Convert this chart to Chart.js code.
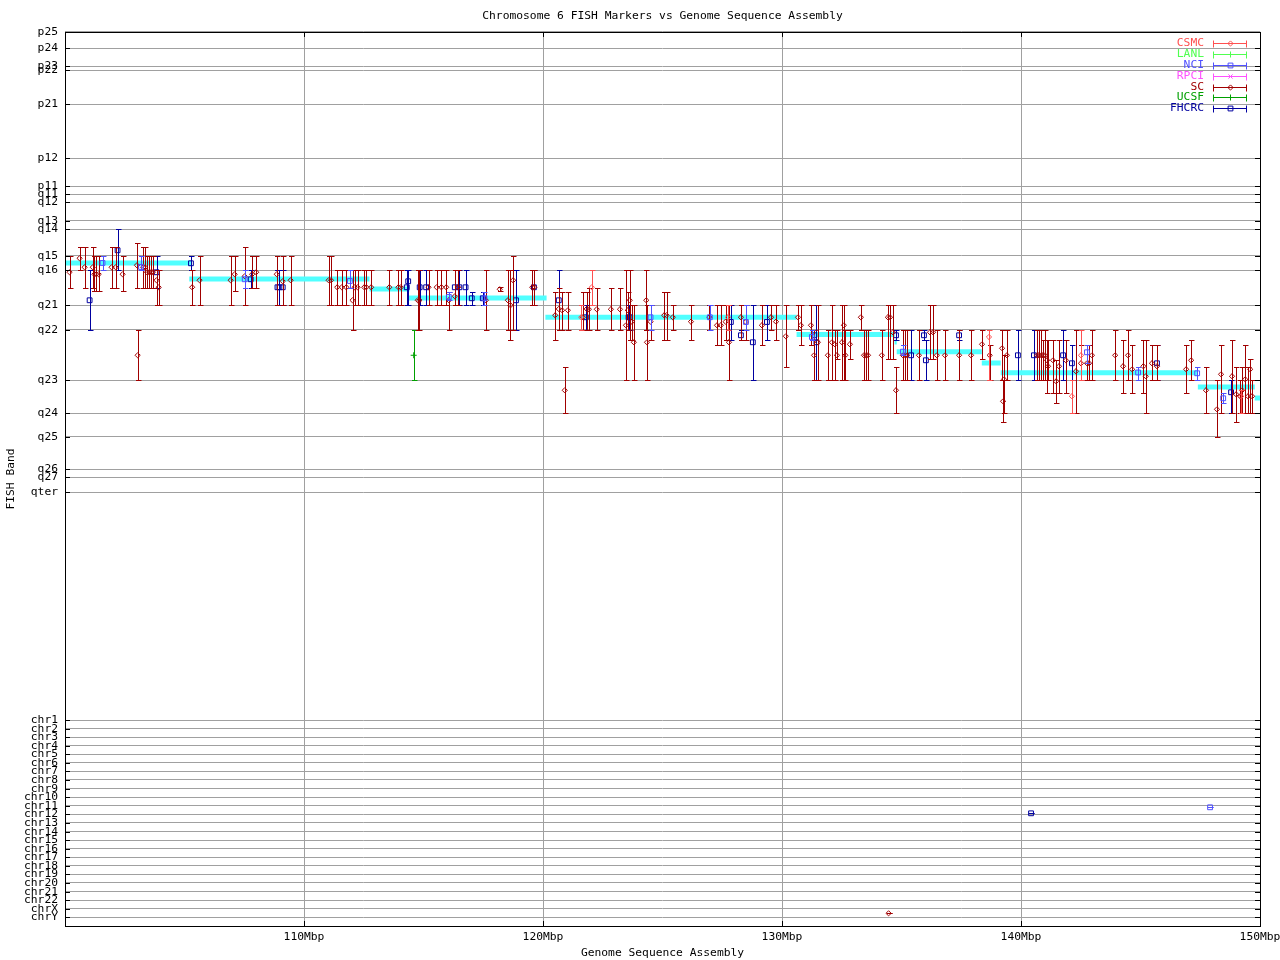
<!DOCTYPE html>
<html><head><meta charset="utf-8">
<script src="https://cdn.jsdelivr.net/npm/chart.js@4.4.1/dist/chart.umd.min.js"></script>
<style>html,body{margin:0;padding:0;background:#fff}canvas{display:block}</style>
</head><body>
<canvas id="c" width="1280" height="960"></canvas>
<script>
// ---- axis definitions ----
const bandLabels = ['p25','p24','p23','p22','p21','p12','p11','q11','q12','q13','q14','q15','q16','q21','q22','q23','q24','q25','q26','q27','qter',
  'chr1','chr2','chr3','chr4','chr5','chr6','chr7','chr8','chr9','chr10','chr11','chr12','chr13','chr14','chr15','chr16','chr17','chr18','chr19','chr20','chr21','chr22','chrX','chrY'];
const bandPos = [0,16.3,34.3,38.3,72.3,126.3,154.3,162.3,170.3,189,197.3,224,238.3,273.3,298,348.3,381.3,405,437.3,445.3,460.3,
  688.3,696.7,705.3,713.7,722.3,730.7,739.3,748,756.7,765.3,773.7,782.3,791,799.7,808.3,817,825.3,833.7,842.3,851,859.7,868.3,877,885.3];
const xTicks = [100,110,120,130,140,150];

// ---- assembly (sequence-to-band mapping) ----
const asmStart = [100.00,105.20,112.74,114.33,120.10,130.61,134.71,134.80,138.36,139.15,147.40,149.78];
const asmEnd   = [105.27,112.74,114.41,120.15,130.61,134.71,134.80,138.36,139.15,147.40,149.78,150.00];
const asmBand  = [231,247,257,266,285.3,302.5,310,319.7,331,340.7,355,366];

// ---- SC ----
const scPos = [100.19,100.61,100.82,101.16,101.23,101.31,101.41,101.95,102.12,102.41,103.01,103.04,103.27,103.35,103.43,103.52,103.60,103.68,103.83,103.92,
  105.32,105.63,106.93,107.10,107.52,107.83,108.00,108.86,109.11,109.44,111.03,111.13,111.39,111.58,111.77,112.03,112.12,112.24,112.52,112.61,
  112.81,113.57,113.95,114.05,114.76,114.83,115.21,115.55,115.75,115.95,116.06,116.31,116.45,117.61,118.19,118.53,118.64,118.75,119.55,119.64,
  120.51,120.66,120.80,120.91,121.04,121.67,121.83,121.92,122.25,122.84,123.22,123.47,123.55,123.63,123.72,123.80,124.32,124.35,124.50,125.07,
  125.17,125.43,126.19,126.96,127.28,127.44,127.64,127.78,128.28,128.49,129.16,129.54,129.75,130.16,130.67,130.79,131.21,131.34,131.50,131.92,
  132.09,132.21,132.30,132.51,132.59,132.65,132.84,133.30,133.43,133.51,133.60,134.18,134.43,134.52,134.64,134.77,135.06,135.15,135.23,135.73,
  136.19,136.32,136.48,136.82,137.41,137.91,138.37,138.69,139.21,139.25,139.29,139.41,140.67,140.75,140.84,140.92,141.00,141.09,141.13,141.34,
  141.47,141.59,141.88,142.30,142.51,142.76,142.85,142.97,143.94,144.27,144.48,144.65,145.12,145.22,145.48,145.69,146.91,147.12,147.74,148.20,
  148.37,148.83,149.00,149.17,149.25,149.38,149.50,149.59,149.67,134.46];
const scBand = [240.3,226.3,235.3,235.3,242.3,242.3,242.3,235.3,235.3,242.3,233.3,323.3,235.3,235.3,240.3,240.3,240.3,240.3,248.3,255.3,
  255.3,248.3,248.3,242.3,244.3,242.3,240.3,242.3,249.3,248.3,248.3,248.3,255.3,255.3,255.3,268.3,255.3,255.3,255.3,255.3,
  255.3,255.3,255.3,255.3,268.3,268.3,255.3,255.3,255.3,255.3,268.3,264.3,255.3,268.3,257.3,268.3,273.3,248.3,255.3,255.3,
  283.3,277,278.3,358.3,278.3,285.3,277,277.3,277.3,277.3,277.3,293.3,278.3,268.3,289.7,310.3,268.3,310.3,289.7,283.3,
  283.3,285.3,289.7,285.3,293.3,293.3,289.7,310.3,285.3,290,293.3,285.3,289.7,304.3,285.3,293.3,293.3,323.3,310.3,323.3,
  310.3,312.3,323.3,310.3,293.3,323.3,312.3,285.3,323.3,323.3,323.3,323.3,285.3,285.3,300.3,358.3,323.3,323.3,323.3,323.3,
  300.3,300.3,323.3,323.3,323.3,323.3,312.3,323.3,316.3,369.3,347.3,323.3,323.3,323.3,323.3,323.3,323.3,328.3,334.3,328.3,
  349.3,334.3,328.3,339.3,331.3,331.3,331.3,323.3,323.3,334.3,323.3,337.3,334.3,344.3,331.3,334.3,337.3,328.3,358.3,377.3,
  342.3,344.3,362.3,364.3,358.3,347.3,364.3,337.3,364.3,881.3];
const scFrom = [224.3,215.3,215.3,215.3,224.3,224.3,224.3,215.3,215.3,224.3,211.3,298,215.3,215.3,224.3,224.3,224.3,224.3,238.3,238.3,
  238.3,224.3,224.3,224.3,215.3,224.3,224.3,224.3,224.3,224.3,224.3,224.3,238.3,238.3,238.3,238.3,238.3,238.3,238.3,238.3,
  238.3,238.3,238.3,238.3,238.3,238.3,238.3,238.3,238.3,238.3,259.7,238.3,238.3,238.3,255.3,238.3,238.3,224.3,238.3,238.3,
  259.7,256.3,259.7,335.3,259.7,259.7,259.7,256.3,256.3,256.3,256.3,238.3,259.7,238.3,273.3,273.3,238.3,273.3,273.3,259.7,
  259.7,273.3,273.3,273.3,273.3,273.3,273.3,273.3,273.3,273.3,273.3,273.3,273.3,273.3,273.3,273.3,273.3,298,273.3,298,
  273.3,298,298,273.3,273.3,298,298,273.3,298,298,298,298,273.3,273.3,273.3,335.3,298,298,298,298,
  273.3,273.3,298,298,298,298,298,313.3,298,348.3,323.3,298,298,298,298,308,298,308,308,308,
  328.3,308,308,298,313.3,313.3,313.3,298,298,308,298,313.3,308,308,313.3,313.3,313.3,308,335.3,348.3,
  313.3,308,335.3,348.3,335.3,313.3,335.3,327.3,348.3,881.3];
const scTo = [256.3,238.3,256.3,256.3,259.3,259.3,259.3,256.3,256.3,259.3,256.3,348.3,256.3,256.3,256.3,256.3,256.3,256.3,273.3,273.3,
  273.3,273.3,273.3,259.3,273.3,256.3,256.3,273.3,273.3,273.3,273.3,273.3,273.3,273.3,273.3,298,273.3,273.3,273.3,273.3,
  273.3,273.3,273.3,273.3,298,298,273.3,273.3,273.3,273.3,298,273.3,273.3,298,259.3,298,308,298,273.3,273.3,
  308,298,298,381.3,298,298,298,298,298,298,298,348.3,298,308,308,348.3,298,348.3,308,308,
  308,298,308,298,313,313,308,348.3,308,308,313,298,308,335.3,298,313,313,348.3,348.3,348.3,
  348.3,348.3,327.3,348.3,348.3,348.3,327.3,298,348.3,348.3,348.3,348.3,327.3,327.3,327.3,381.3,348.3,348.3,348.3,348.3,
  327.3,327.3,348.3,348.3,348.3,348.3,327.3,348.3,348.3,390.3,381.3,348.3,348.3,348.3,348.3,348.3,348.3,361.3,348.3,361.3,
  371.3,361.3,361.3,381.3,348.3,348.3,348.3,348.3,348.3,361.3,348.3,361.3,361.3,381.3,348.3,348.3,361.3,348.3,381.3,405.3,
  381.3,381.3,390.3,381.3,381.3,381.3,381.3,381.3,381.3,881.3];

// ---- FHCRC ----
const fhPos  = [101.03,102.20,103.83,105.27,107.77,108.89,108.97,109.11,114.30,114.36,114.84,115.11,116.31,116.50,116.76,117.02,117.48,118.87,119.62,120.66,
  121.79,123.58,123.64,127.86,128.28,128.78,129.37,131.35,131.44,134.77,135.40,135.94,136.02,137.41,139.87,140.54,141.76,142.13,145.69,148.79,140.42];
const fhBand = [268.3,218.3,240.3,231.3,247.3,255.3,255.3,255.3,255.3,249.3,255.3,255.3,255.3,255.3,255.3,266.3,266.3,268.3,255.3,268.3,
  285.3,285.3,285.3,290,303.3,310.3,290,303.3,310.3,303.3,323.3,303.3,328.3,303.3,323.3,323.3,323.3,331.3,331.3,360.3,781.3];
const fhFrom = [238.3,197.3,224.3,224.3,238.3,238.3,238.3,238.3,238.3,238.3,238.3,238.3,238.3,238.3,238.3,259.7,259.7,238.3,238.3,238.3,
  273.3,273.3,273.3,273.3,298,273.3,273.3,298.3,273.3,298.3,298.3,298.3,308,298.3,298.3,298.3,298.3,313.3,313.3,348.3,781.3];
const fhTo   = [298.3,238.3,256.3,238.3,256.3,273.3,273.3,273.3,273.3,273.3,273.3,273.3,273.3,273.3,273.3,273.3,273.3,298,273.3,298,
  298,298,298,308,308,348.3,308,308,348.3,308,348.3,308,348.3,308,348.3,348.3,348.3,348.3,348.3,381.3,781.3];

// ---- NCI ----
const nciPos  = [101.57,103.18,107.52,111.92,116.06,117.55,124.50,126.98,128.49,131.25,135.06,142.76,144.90,147.37,148.46,147.91];
const nciBand = [231,235,247.3,249,265,266.3,285.3,285.3,290,305,319.7,320.3,340.5,341.3,366.3,775.3];
const nciFrom = [224.3,224.3,238.3,238.3,259.7,259.7,273.3,273.3,273.3,298.3,313.3,313.3,335.3,335.3,361.3,775.3];
const nciTo   = [238.3,238.3,256.3,256.3,268.3,273.3,298,298,298,308,323.3,331.3,348.3,348.3,371.3,775.3];

// ---- CSMC ----
const csPos  = [121.60,122.04,127.74,138.66,142.13,142.51,149.21];
const csBand = [285.3,255.3,285.3,305,364.3,323.3,364.3];
const csFrom = [273.3,238.3,273.3,298.3,348.3,298.3,358.3];
const csTo   = [298,273.3,298,348.3,381.3,348.3,381.3];

// ---- UCSF ----
const ucPos = [114.59]; const ucBand = [323.3]; const ucFrom = [298]; const ucTo = [348.3];
// ---- LANL, RPCI (no markers in this range) ----
const laPos = []; const laBand = []; const laFrom = []; const laTo = [];
const rpPos = []; const rpBand = []; const rpFrom = []; const rpTo = [];

const FONT = "'DejaVu Sans Mono', monospace";
const FS = 11.3;
const GRID = '#a0a0a0';

function pts(pos, band, from, to) {
  return pos.map((x, i) => ({x: x, y: band[i], lo: from[i], hi: to[i]}));
}
function series(label, color, style, radius, pos, band, from, to) {
  return {type: 'scatter', label: label, data: pts(pos, band, from, to), borderColor: color, backgroundColor: 'rgba(0,0,0,0)',
    pointStyle: style, pointRadius: radius, pointHoverRadius: radius, pointBorderWidth: 1, order: 0};
}
const asmData = [];
asmStart.forEach((s, i) => { asmData.push({x: s, y: asmBand[i]}); asmData.push({x: asmEnd[i], y: asmBand[i]}); asmData.push({x: asmEnd[i], y: null}); });

const datasets = [
  {type: 'line', label: 'assembly', data: asmData, borderColor: '#50ffff', borderWidth: 5, pointRadius: 0, spanGaps: false, fill: false, order: 10, borderCapStyle: 'butt'},
  series('CSMC', '#ff5050', 'rectRot', 2.6, csPos, csBand, csFrom, csTo),
  series('LANL', '#50ff50', 'cross', 3, laPos, laBand, laFrom, laTo),
  series('NCI', '#5050ff', 'rect', 3.4, nciPos, nciBand, nciFrom, nciTo),
  series('RPCI', '#ff50ff', 'crossRot', 3, rpPos, rpBand, rpFrom, rpTo),
  series('SC', '#a00000', 'rectRot', 2.6, scPos, scBand, scFrom, scTo),
  series('UCSF', '#00a000', 'cross', 3, ucPos, ucBand, ucFrom, ucTo),
  series('FHCRC', '#0000a0', 'rect', 3.4, fhPos, fhBand, fhFrom, fhTo)
];

const errorBars = {
  id: 'errorBars',
  beforeDatasetDraw(chart, args) {
    const ds = chart.data.datasets[args.index];
    if (ds.type !== 'scatter') return;
    const xs = chart.scales.x, ys = chart.scales.y, ctx = chart.ctx;
    ctx.save();
    ctx.strokeStyle = ds.borderColor; ctx.lineWidth = 1;
    ctx.beginPath();
    ds.data.forEach(d => {
      const px = Math.round(xs.getPixelForValue(d.x)) + 0.5;
      const y1 = Math.round(ys.getPixelForValue(d.lo)) + 0.5;
      const y2 = Math.round(ys.getPixelForValue(d.hi)) + 0.5;
      ctx.moveTo(px, y1); ctx.lineTo(px, y2);
      ctx.moveTo(px - 2.5, y1); ctx.lineTo(px + 3, y1);
      ctx.moveTo(px - 2.5, y2); ctx.lineTo(px + 3, y2);
    });
    ctx.stroke();
    ctx.restore();
  }
};

const frame = {
  id: 'frame',
  afterDraw(chart) {
    const {ctx, chartArea: a, scales: {x, y}} = chart;
    ctx.save();
    ctx.strokeStyle = '#000'; ctx.lineWidth = 1;
    ctx.strokeRect(Math.round(a.left) + 0.5, Math.round(a.top) + 0.5, Math.round(a.right - a.left), Math.round(a.bottom - a.top));
    ctx.beginPath();
    y.ticks.forEach(t => {
      const py = Math.round(y.getPixelForValue(t.value)) + 0.5;
      ctx.moveTo(a.left, py); ctx.lineTo(a.left + 5, py);
      ctx.moveTo(a.right - 5, py); ctx.lineTo(a.right, py);
    });
    x.ticks.forEach(t => {
      const px = Math.round(x.getPixelForValue(t.value)) + 0.5;
      ctx.moveTo(px, a.bottom); ctx.lineTo(px, a.bottom - 5);
      ctx.moveTo(px, a.top); ctx.lineTo(px, a.top + 5);
    });
    ctx.stroke();
    // legend
    const rowH = 10.95, top0 = 42.7, xr = 1204, s0 = 1213, s1 = 1247;
    ctx.font = FS + 'px ' + FONT;
    ctx.textAlign = 'right'; ctx.textBaseline = 'middle';
    const legendSets = chart.data.datasets.filter(d => d.type === 'scatter');
    legendSets.forEach((ds, i) => {
      const yy = Math.round(top0 + i * rowH) + 0.5;
      ctx.fillStyle = ds.borderColor;
      ctx.fillText(ds.label, xr, yy);
      ctx.strokeStyle = ds.borderColor;
      ctx.beginPath();
      ctx.moveTo(s0, yy); ctx.lineTo(s1, yy);
      ctx.moveTo(s0 + 0.5, yy - 3); ctx.lineTo(s0 + 0.5, yy + 4);
      ctx.moveTo(s1 - 0.5, yy - 3); ctx.lineTo(s1 - 0.5, yy + 4);
      ctx.stroke();
      ctx.fillStyle = 'rgba(0,0,0,0)';
      Chart.helpers.drawPoint(ctx, {pointStyle: ds.pointStyle, radius: ds.pointRadius, borderWidth: 1}, Math.round((s0 + s1) / 2) + 0.5, yy);
    });
    ctx.restore();
  }
};

new Chart(document.getElementById('c'), {
  data: {datasets: datasets},
  plugins: [errorBars, frame],
  options: {
    responsive: false, animation: false, devicePixelRatio: 1,
    layout: {padding: {left: 0, right: 20, top: 0, bottom: 0}},
    plugins: {
      legend: {display: false}, tooltip: {enabled: false},
      title: {display: true, text: 'Chromosome 6 FISH Markers vs Genome Sequence Assembly', color: '#000', fullSize: false,
        font: {family: FONT, size: FS, weight: 'normal', lineHeight: 1.2}, padding: {top: 9.5, bottom: 8.9}}
    },
    scales: {
      x: {type: 'linear', min: 100, max: 150, position: 'bottom',
        afterBuildTicks: s => { s.ticks = xTicks.map(v => ({value: v})); },
        afterFit: s => { s.height = 34; s.paddingLeft = 0; s.paddingRight = 0; },
        ticks: {autoSkip: false, maxRotation: 0, padding: 4, color: '#000', font: {family: FONT, size: FS},
          callback: v => v === xTicks[0] ? '' : v + 'Mbp'},
        grid: {color: GRID, lineWidth: 1, drawTicks: false},
        border: {display: false},
        title: {display: true, text: 'Genome Sequence Assembly', color: '#000', font: {family: FONT, size: FS, lineHeight: 1.2}, padding: {top: 0, bottom: 0}}
      },
      y: {type: 'linear', min: 0, max: 894, reverse: true, position: 'left',
        afterBuildTicks: s => { s.ticks = bandPos.map(v => ({value: v})); },
        afterFit: s => { s.width = 65; s.paddingTop = 0; s.paddingBottom = 0; },
        ticks: {autoSkip: false, padding: 7, color: '#000', font: {family: FONT, size: FS, lineHeight: 1},
          callback: (v, i) => bandLabels[i]},
        grid: {color: GRID, lineWidth: 1, drawTicks: false},
        border: {display: false},
        title: {display: true, text: 'FISH Band', color: '#000', font: {family: FONT, size: FS, lineHeight: 1.2}, padding: {top: 4.5, bottom: 0}}
      }
    }
  }
});
</script>
</body></html>
